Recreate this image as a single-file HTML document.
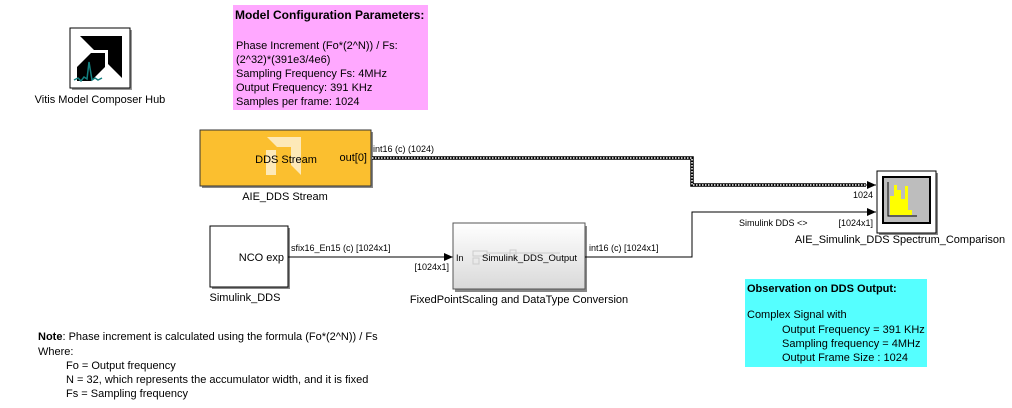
<!DOCTYPE html>
<html><head><meta charset="utf-8"><style>
html,body{margin:0;padding:0;background:#fff;}
svg{display:block;font-family:"Liberation Sans",Arial,sans-serif;}
</style></head><body>
<svg width="1012" height="408" viewBox="0 0 1012 408" xmlns="http://www.w3.org/2000/svg" xml:space="preserve">
<defs>
<marker id="ar" markerWidth="10" markerHeight="10" refX="9" refY="5" orient="auto" markerUnits="userSpaceOnUse"><path d="M0,1 L9,5 L0,9 Z" fill="#000"/></marker>
<linearGradient id="gr" x1="0" y1="0" x2="0" y2="1"><stop offset="0" stop-color="#ffffff"/><stop offset="1" stop-color="#d9d9d9"/></linearGradient>
</defs>
<!-- Hub -->
<rect x="72" y="30" width="60" height="60" fill="#999"/>
<rect x="70" y="28" width="60" height="60" fill="#fff" stroke="#000" stroke-width="1"/>
<path d="M80,36 L122,36 L122,78 L108,64 L108,50 L94,50 Z" fill="#000"/>
<path d="M91,53 L105,53 L105,67 L91,81 L77,81 L77,67 Z" fill="#000"/>
<polyline points="74,80 78,78 81,81 84,77 87,79 89,62 92,80 95,78 98,80 102,78" fill="none" stroke="#138080" stroke-width="1.5"/>
<text x="100" y="103" font-size="11" text-anchor="middle">Vitis Model Composer Hub</text>
<!-- Pink -->
<rect x="233" y="5" width="195" height="105" fill="#ffa8ff"/>
<g font-size="11"><text x="235" y="19" font-weight="bold" font-size="12">Model Configuration Parameters:</text>
<text x="236" y="49">Phase Increment (Fo*(2^N)) / Fs:</text>
<text x="236" y="63">(2^32)*(391e3/4e6)</text>
<text x="236" y="77">Sampling Frequency Fs: 4MHz</text>
<text x="236" y="91">Output Frequency: 391 KHz</text>
<text x="236" y="105">Samples per frame: 1024</text></g>
<!-- DDS Stream -->
<rect x="202" y="132" width="171" height="56" fill="#888"/>
<rect x="200" y="130" width="171" height="56" fill="#fbbf2f" stroke="#333" stroke-width="1"/>
<path d="M267,137 L301,137 L301,175 L291,165 L291,147 L277,147 Z" fill="#fde9b8"/>
<path d="M266,150 L276,150 L276,175 L266,175 Z" fill="#fde9b8"/>
<text x="286" y="163" font-size="11" text-anchor="middle">DDS Stream</text>
<text x="367" y="161" font-size="11" text-anchor="end">out[0]</text>
<text x="285" y="200" font-size="11" text-anchor="middle">AIE_DDS Stream</text>
<text x="373" y="152" font-size="9">int16 (c) (1024)</text>
<!-- dotted double line -->
<path d="M372,158 L692,158 L692,185 L866,185" fill="none" stroke="#000" stroke-width="3.5"/>
<path d="M372,158 L692,158 L692,185 L866,185" fill="none" stroke="#fff" stroke-width="1.5" stroke-dasharray="1.5,1.5"/>
<line x1="866" y1="185" x2="876" y2="185" stroke="#000" stroke-width="1" marker-end="url(#ar)"/>
<text x="873" y="198" font-size="9" text-anchor="end">1024</text>
<!-- Spectrum -->
<rect x="879" y="173" width="59" height="62" fill="#888"/>
<rect x="877" y="171" width="59" height="62" fill="#fff" stroke="#000"/>
<rect x="883" y="177" width="47" height="46" fill="#bdbdbd" stroke="#000" stroke-width="2"/>
<path d="M888,182 L888,216 L917,216" fill="none" stroke="#000" stroke-width="1"/>
<path d="M890,215 L890,196 L894,196 L894,185 L897,185 L897,190 L901,190 L901,199 L905,199 L905,186 L908,186 L908,210 L912,210 L912,215 Z" fill="#ff0"/>
<text x="900" y="243" font-size="11" text-anchor="middle">AIE_Simulink_DDS Spectrum_Comparison</text>
<!-- NCO -->
<rect x="212" y="228" width="78" height="61" fill="#888"/>
<rect x="210" y="226" width="78" height="61" fill="#fff" stroke="#000"/>
<text x="284" y="261" font-size="11" text-anchor="end">NCO  exp</text>
<text x="245" y="301" font-size="11" text-anchor="middle">Simulink_DDS</text>
<line x1="288" y1="257" x2="453" y2="257" stroke="#000" marker-end="url(#ar)"/>
<text x="291" y="251" font-size="9">sfix16_En15 (c) [1024x1]</text>
<text x="449" y="270" font-size="9" text-anchor="end">[1024x1]</text>
<!-- Fixed -->
<rect x="455" y="226" width="132" height="66" fill="#888"/>
<rect x="453" y="223" width="132" height="66" fill="url(#gr)" stroke="#555"/>
<g stroke="#ccc" fill="none"><rect x="473" y="251" width="14" height="5"/><rect x="473" y="258" width="6" height="6"/><rect x="510" y="250" width="6" height="8"/><line x1="487" y1="253" x2="560" y2="253"/></g>
<text x="456" y="261" font-size="9">In</text>
<text x="482" y="261" font-size="9.5">Simulink_DDS_Output</text>
<text x="519" y="303" font-size="11" text-anchor="middle">FixedPointScaling and DataType Conversion</text>
<path d="M585,257 L692,257 L692,212 L876,212" fill="none" stroke="#000" marker-end="url(#ar)"/>
<text x="589" y="251" font-size="9">int16 (c) [1024x1]</text>
<text x="739" y="226" font-size="9">Simulink DDS &lt;&gt;</text>
<text x="873" y="226" font-size="9" text-anchor="end">[1024x1]</text>
<!-- Cyan -->
<rect x="745" y="279" width="182" height="88" fill="#55ffff"/>
<g font-size="11"><text x="747" y="292" font-weight="bold">Observation on DDS Output:</text>
<text x="747" y="318">Complex Signal with</text>
<text x="782" y="333">Output Frequency = 391 KHz</text>
<text x="782" y="347">Sampling frequency  = 4MHz</text>
<text x="782" y="361">Output Frame Size : 1024</text></g>
<!-- Note -->
<g font-size="11"><text x="38" y="340"><tspan font-weight="bold">Note</tspan>: Phase increment is calculated using the formula (Fo*(2^N)) / Fs</text>
<text x="38" y="355">Where:</text>
<text x="66" y="369">Fo = Output frequency</text>
<text x="66" y="383">N = 32, which represents the accumulator width, and it is fixed</text>
<text x="66" y="397">Fs = Sampling frequency</text></g>
</svg>
</body></html>
